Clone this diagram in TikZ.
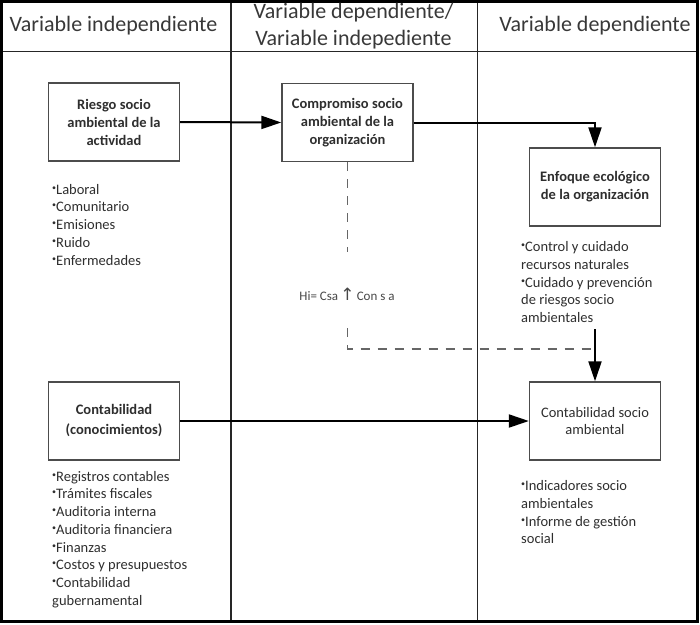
\documentclass[tikz,border=0pt]{standalone}
\usepackage{fontspec}
\setmainfont{Carlito}
\newfontfamily\dejavu{DejaVu Sans}
\usetikzlibrary{arrows.meta}
\newcommand\itb{{\fontsize{8}{8}\selectfont\raisebox{4pt}{•}}}
\begin{document}
\begin{tikzpicture}[x=1pt,y=-1pt,
  hdr/.style={font=\fontsize{22}{26.5}\selectfont, text=black!78, align=center, inner sep=0pt},
  box/.style={draw=black!70, line width=1.4pt, minimum width=131pt, minimum height=78pt, inner sep=2pt, align=center, font=\fontsize{14.5}{18}\selectfont\bfseries, text=black!82},
  lst/.style={font=\fontsize{14.5}{17.7}\selectfont, text=black!82, align=left, inner sep=0pt, anchor=north west},
  arr/.style={line width=2pt, -{Triangle[length=20pt,width=13pt]}},
  dsh/.style={line width=1.8pt, draw=black!60, dash pattern=on 9pt off 8pt},
  rule/.style={line width=1.8pt, draw=black!85},
]
\useasboundingbox (0,0) rectangle (700,624);
% frame and columns
\draw[rule] (1.5,51.5) -- (697.5,51.5);
\draw[rule] (231,1.5) -- (231,621.5);
\draw[rule] (477.5,1.5) -- (477.5,621.5);
\draw[line width=3pt] (1.5,1.5) rectangle (697.5,621.5);
% headers
\node[hdr] (h1) at (113.5,26) {Variable independiente};
\node[hdr] (h2) at (353.5,26) {Variable dependiente/\\Variable indepediente};
\node[hdr] (h3) at (595,26) {Variable dependiente};
% boxes
\node[box] (rsg) at (114,122) {Riesgo socio\\ambiental de la\\actividad};
\node[box] (cmp) at (347.5,122.5) {Compromiso socio\\ambiental de la\\organización};
\node[box] (enf) at (595,187) {Enfoque ecológico\\de la organización};
\node[box, font=\fontsize{14.5}{20}\selectfont\bfseries] (con) at (114,421) {Contabilidad\\(conocimientos)};
\node[box, font=\fontsize{14.5}{17}\selectfont] (csa) at (595,421) {Contabilidad socio\\ambiental};
% lists
\node[lst] (l1) at (52,184) {\itb Laboral\\\itb Comunitario\\\itb Emisiones\\\itb Ruido\\\itb Enfermedades};
\node[lst] (l2) at (521,241.5) {\itb Control y cuidado\\recursos naturales\\\itb Cuidado y prevención\\de riesgos socio\\ambientales};
\node[lst] (l3) at (52,471) {\itb Registros contables\\\itb Trámites fiscales\\\itb Auditoria interna\\\itb Auditoria financiera\\\itb Finanzas\\\itb Costos y presupuestos\\\itb Contabilidad\\gubernamental};
\node[lst] (l4) at (521,480.5) {\itb Indicadores socio\\ambientales\\\itb Informe de gestión\\social};
% hypothesis text
\node[font=\fontsize{13}{15}\selectfont, text=black!72, inner sep=0pt] (hi) at (347.5,294)
  {\llap{Hi= Csa\,}{\dejavu\fontsize{17}{17}\selectfont ↑}\rlap{\,Con s a}};
% connectors
\coordinate (d1) at (347.5,252);
\coordinate (d2) at (347.5,328);
\coordinate (dj) at (595,349);
\coordinate (s0) at (595,329);
\draw[dsh] (cmp.south) -- (d1);
\draw[dsh] (d2) |- (dj);
\draw[arr] (rsg.east) -- (cmp.west);
\draw[arr] (cmp.east) -| (enf.north);
\draw[arr] (s0) -- (csa.north);
\draw[arr] (con.east) -- (csa.west);
\end{tikzpicture}
\end{document}
